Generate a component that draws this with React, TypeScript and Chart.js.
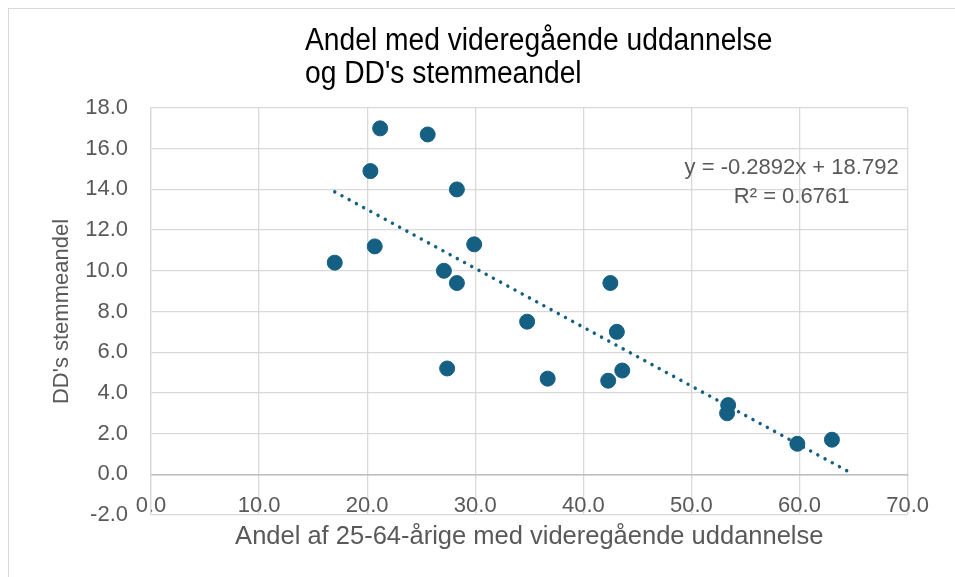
import { useEffect, useRef } from 'react';
import { Chart, registerables } from 'chart.js';

Chart.register(...registerables);

const titleLines = ['Andel med videregående uddannelse', "og DD's stemmeandel"];
const xAxisTitle = 'Andel af 25-64-årige med videregående uddannelse';
const yAxisTitle = "DD's stemmeandel";
const equationLines = ['y = -0.2892x + 18.792', 'R² = 0.6761'];

// Share with upper secondary education (x) vs DD's vote share (y)
const shareEducated = [17.0, 20.3, 21.2, 20.7, 25.6, 28.3, 29.9, 27.1, 28.3, 27.4, 34.8, 36.7, 42.5, 43.1, 42.3, 43.6, 53.4, 53.3, 59.8, 63.0];
const voteShare = [10.4, 14.9, 17.0, 11.2, 16.7, 14.0, 11.3, 10.0, 9.4, 5.2, 7.5, 4.7, 9.4, 7.0, 4.6, 5.1, 3.4, 3.0, 1.5, 1.7];

// Linear trendline endpoints as drawn in the reference
const trendX = [17.0, 64.4];
const trendY = [13.88, 0.17];

const xTicksMin = 0;
const xTicksMax = 70;
const xStep = 10;
const yTicksMin = -2;
const yTicksMax = 18;
const yStep = 2;

const BLUE = '#156082';
const GRID = '#d9d9d9';
const AXIS = '#bfbfbf';
const TEXT = '#595959';
const REGULAR = "'Liberation Sans', Arial, sans-serif";

const textPlugin = {
  id: 'textPlugin',
  afterDraw(chart: any) {
    const ctx = chart.ctx;
    const area = chart.chartArea;
    ctx.save();
    // Title (narrow look via horizontal scaling)
    ctx.save();
    ctx.fillStyle = '#000000';
    ctx.font = `31px ${REGULAR}`;
    ctx.textAlign = 'left';
    ctx.textBaseline = 'middle';
    const sx = 0.91;
    ctx.translate(296, 0);
    ctx.scale(sx, 1);
    titleLines.forEach((line, i) => {
      ctx.fillText(line, 0, 32 + i * 33);
    });
    ctx.restore();
    // X axis title
    ctx.fillStyle = TEXT;
    ctx.font = `25.5px ${REGULAR}`;
    ctx.textAlign = 'center';
    ctx.textBaseline = 'middle';
    ctx.fillText(xAxisTitle, (area.left + area.right) / 2, area.bottom + 22);
    // Trendline equation
    ctx.fillStyle = TEXT;
    ctx.font = `22px ${REGULAR}`;
    ctx.textAlign = 'center';
    const cx = area.right - 116;
    equationLines.forEach((line, i) => {
      ctx.fillText(line, cx, area.top + 60 + i * 29);
    });
    ctx.restore();
  },
};

export default function App() {
  const canvasRef = useRef<HTMLCanvasElement | null>(null);

  useEffect(() => {
    if (!canvasRef.current) return;
    const chart = new Chart(canvasRef.current, {
      type: 'scatter',
      data: {
        datasets: [
          {
            label: 'Data',
            data: shareEducated.map((x, i) => ({ x, y: voteShare[i] })),
            backgroundColor: BLUE,
            borderColor: BLUE,
            borderWidth: 1,
            pointRadius: 7.5,
            pointHoverRadius: 7.5,
            order: 1,
          },
          {
            label: 'Trend',
            type: 'line',
            data: trendX.map((x, i) => ({ x, y: trendY[i] })),
            borderColor: BLUE,
            borderWidth: 3.5,
            borderDash: [0.01, 8.2],
            borderCapStyle: 'round',
            pointRadius: 0,
            fill: false,
            showLine: true,
            order: 2,
          } as any,
        ],
      },
      options: {
        animation: false,
        responsive: false,
        devicePixelRatio: 1,
        layout: { padding: { top: 99, left: 0, right: 32, bottom: 54 } },
        plugins: {
          legend: { display: false },
          tooltip: { enabled: false },
          title: { display: false },
        },
        scales: {
          x: {
            type: 'linear',
            position: { y: 0 } as any,
            min: xTicksMin,
            max: xTicksMax,
            ticks: {
              stepSize: xStep,
              color: TEXT,
              font: { family: REGULAR, size: 22 },
              padding: 18,
              callback: (v: any) => Number(v).toFixed(1),
            },
            grid: { color: GRID, lineWidth: 1.3, drawTicks: false },
            border: { color: AXIS, width: 1.5 },
            title: { display: false },
          },
          y: {
            type: 'linear',
            min: yTicksMin,
            max: yTicksMax,
            afterFit: (scale: any) => {
              scale.width = 142;
            },
            ticks: {
              stepSize: yStep,
              color: TEXT,
              font: { family: REGULAR, size: 22 },
              padding: 23,
              callback: (v: any) => Number(v).toFixed(1),
            },
            grid: {
              color: (c: any) => (c.tick && c.tick.value === 0 ? AXIS : GRID),
              lineWidth: 1.3,
              drawTicks: false,
            },
            border: { color: GRID, width: 1.3 },
            title: {
              display: true,
              text: yAxisTitle,
              color: TEXT,
              font: { family: REGULAR, size: 22 },
              padding: { top: 40, bottom: 0 },
            },
          },
        },
      },
      plugins: [textPlugin],
    });
    return () => chart.destroy();
  }, []);

  return (
    <div
      style={{
        position: 'fixed',
        left: 8,
        top: 8,
        width: 960,
        height: 580,
        borderLeft: '1px solid #d9d9d9',
        borderTop: '1px solid #d9d9d9',
        background: '#fff',
      }}
    >
      <canvas ref={canvasRef} width={938} height={560} style={{ display: 'block', width: 938, height: 560 }} />
    </div>
  );
}
